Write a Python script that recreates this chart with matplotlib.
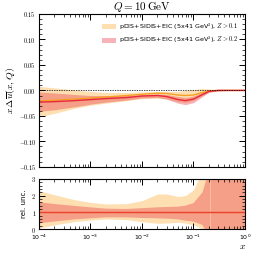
import matplotlib
matplotlib.use('Agg')
import matplotlib.pyplot as plt
from matplotlib.patches import Patch
from matplotlib.ticker import FuncFormatter, MultipleLocator, LogLocator, NullFormatter
import numpy as np

plt.rcParams['mathtext.fontset'] = 'cm'

# x nodes for the upper panel
x = [1e-4, 2e-4, 5e-4, 1e-3, 2e-3, 5e-3, 1e-2, 2e-2, 3e-2, 5e-2, 7e-2, 0.1, 0.15, 0.2, 0.3, 0.5, 1.0]

# Z > 0.1 (orange)
cen_z1 = [-0.021, -0.019, -0.017, -0.015, -0.013, -0.010, -0.0075, -0.0055, -0.006, -0.009, -0.010, -0.009, -0.004, -0.001, 0.0, 0.0, 0.0]
lo_z1 = [-0.052, -0.045, -0.035, -0.029, -0.025, -0.020, -0.016, -0.015, -0.017, -0.022, -0.024, -0.020, -0.010, -0.003, -0.001, 0.0, 0.0]
hi_z1 = [0.008, 0.005, 0.001, -0.002, -0.004, -0.004, -0.003, -0.002, -0.002, -0.002, 0.0, 0.002, 0.004, 0.003, 0.001, 0.0, 0.0]

# Z > 0.2 (red)
cen_z2 = [-0.023, -0.022, -0.020, -0.018, -0.016, -0.014, -0.011, -0.010, -0.012, -0.018, -0.020, -0.017, -0.008, -0.002, 0.0, 0.0, 0.0]
lo_z2 = [-0.041, -0.038, -0.032, -0.027, -0.023, -0.019, -0.015, -0.014, -0.017, -0.025, -0.028, -0.024, -0.012, -0.004, -0.001, 0.0, 0.0]
hi_z2 = [-0.003, -0.005, -0.008, -0.010, -0.010, -0.010, -0.008, -0.007, -0.008, -0.012, -0.014, -0.011, -0.003, 0.0, 0.001, 0.0, 0.0]

# relative uncertainty panel
x_rel = [1e-4, 2e-4, 5e-4, 1e-3, 2e-3, 5e-3, 1e-2, 2e-2, 3e-2, 5e-2, 7e-2, 0.1, 0.15, 0.2, 0.214, 0.216, 0.218, 0.3, 0.5, 0.636, 0.64, 0.644, 0.8, 1.0]
rel_hi_z1 = [2.3, 2.05, 1.75, 1.6, 1.5, 1.52, 1.7, 2.1, 2.1, 1.95, 2.0, 2.35, 3.5, 3.5, 3.5, 3.5, 3.5, 3.5, 3.5, 3.5, 3.5, 3.5, 3.5, 3.5]
rel_lo_z1 = [0.04, 0.25, 0.45, 0.54, 0.6, 0.56, 0.44, 0.34, 0.36, 0.4, 0.36, 0.24, 0.0, -0.5, -0.5, -0.5, -0.5, -0.5, -0.5, -0.5, -0.5, -0.5, -0.5, -0.5]
rel_hi_z2 = [1.6, 1.5, 1.38, 1.3, 1.22, 1.2, 1.25, 1.3, 1.32, 1.34, 1.4, 1.55, 2.2, 3.5, 3.5, 3.5, 3.5, 3.5, 3.5, 3.5, 3.5, 3.5, 3.5, 3.5]
rel_lo_z2 = [0.34, 0.45, 0.58, 0.64, 0.7, 0.7, 0.66, 0.64, 0.62, 0.58, 0.5, 0.44, 0.24, -0.5, -0.5, -0.5, -0.5, -0.5, -0.5, -0.5, -0.5, -0.5, -0.5, -0.5]
rel_gap = [0.216, 0.64]

orange_band = '#fbb040'
orange_line = '#f5a023'
red_band = '#e8283a'
red_line = '#e8283a'

fig = plt.figure(figsize=(2.54, 2.54), dpi=100)
ax = fig.add_axes([0.1535, 0.343, 0.811, 0.602])
ax2 = fig.add_axes([0.1535, 0.0984, 0.811, 0.197])

# upper panel
ax.fill_between(x, lo_z1, hi_z1, color=orange_band, alpha=0.4, lw=0)
ax.fill_between(x, lo_z2, hi_z2, color=red_band, alpha=0.35, lw=0)
ax.plot(x, cen_z1, color=orange_line, lw=1.0)
ax.plot(x, cen_z2, color=red_line, lw=1.0)
ax.axhline(0, color='k', ls='--', lw=0.5, dashes=(2, 1.5))
ax.set_xscale('log')
ax.set_xlim(1e-4, 1)
ax.set_ylim(-0.15, 0.15)
ax.set_ylabel(r'$x\,\Delta\overline{u}(x,Q)$', fontsize=7, labelpad=1)
ax.set_title(r'$Q=10\,\mathrm{GeV}$', fontsize=8, pad=2)
ax.yaxis.set_major_locator(MultipleLocator(0.05))
ax.yaxis.set_minor_locator(MultipleLocator(0.01))
ax.yaxis.set_major_formatter(FuncFormatter(lambda v, p: r'$%.2f$' % v if abs(v) > 1e-9 else r'$0.00$'))
ax.xaxis.set_major_formatter(NullFormatter())

handles = [Patch(color=orange_band, alpha=0.4, lw=0), Patch(color=red_band, alpha=0.35, lw=0)]
labels = [r'pDIS+SIDIS+EIC (5x41 GeV$^2$), $Z>0.1$', r'pDIS+SIDIS+EIC (5x41 GeV$^2$), $Z>0.2$']
ax.legend(handles, labels, loc='upper right', frameon=False, fontsize=4.6,
          handlelength=2.2, handleheight=0.8, handletextpad=0.5,
          borderaxespad=0.7, labelspacing=0.4)

# lower panel
ones = np.ones(len(x_rel))
mask = [xx not in rel_gap for xx in x_rel]
ax2.fill_between(x_rel, rel_lo_z1, rel_hi_z1, color=orange_band, alpha=0.4, lw=0)
ax2.fill_between(x_rel, rel_lo_z2, rel_hi_z2, where=mask, color=red_band, alpha=0.35, lw=0)
ax2.plot(x_rel, ones, color=orange_line, lw=1.0)
ax2.plot(x_rel, ones, color=red_line, lw=1.0, alpha=0.8)
ax2.set_xscale('log')
ax2.set_xlim(1e-4, 1)
ax2.set_ylim(0, 3)
ax2.set_ylabel('rel. unc.', fontsize=5, labelpad=3)
ax2.set_xlabel(r'$x$', fontsize=7, labelpad=1)
ax2.xaxis.set_label_coords(0.99, -0.24)
ax2.yaxis.set_major_locator(MultipleLocator(1))
ax2.yaxis.set_minor_locator(MultipleLocator(0.2))
ax2.yaxis.set_major_formatter(FuncFormatter(lambda v, p: r'$%d$' % v))

for a in (ax, ax2):
    a.xaxis.set_major_locator(LogLocator(base=10, numticks=10))
    a.xaxis.set_minor_locator(LogLocator(base=10, subs=np.arange(2, 10), numticks=20))
    a.xaxis.set_minor_formatter(NullFormatter())
    a.tick_params(which='both', direction='in', top=True, right=True, labelsize=4.5, pad=2)
    a.tick_params(which='major', length=4, width=0.7)
    a.tick_params(which='minor', length=2, width=0.5)
    for s in a.spines.values():
        s.set_linewidth(0.8)
ax2.tick_params(axis='x', which='major', pad=3)

fig.savefig('out.png', dpi=100)
